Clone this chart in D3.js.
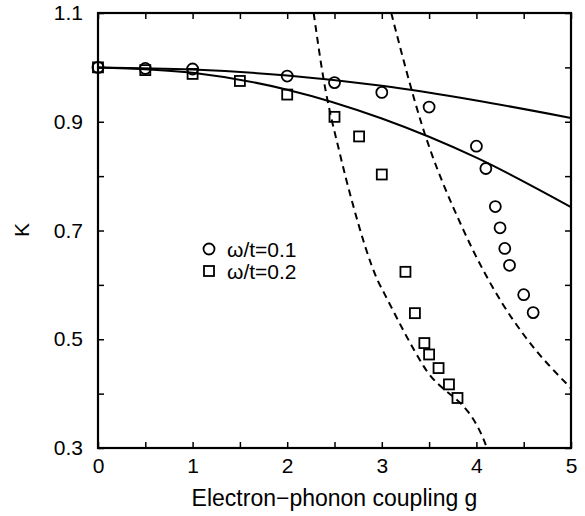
<!DOCTYPE html>
<html><head><meta charset="utf-8">
<script src="https://cdn.jsdelivr.net/npm/d3@7"></script>
<style>body{margin:0;background:#fff}text{font-family:"Liberation Sans",Arial,Helvetica,sans-serif}</style>
</head><body>
<svg id="c" width="585" height="516"></svg>
<script>
// Data
const gCircles=[0,0.5,1,2,2.5,3,3.5,4,4.1,4.2,4.25,4.3,4.35,4.5,4.6];
const kCircles=[1.0,0.998,0.997,0.984,0.972,0.954,0.927,0.855,0.814,0.744,0.705,0.667,0.636,0.582,0.549];
const gSquares=[0,0.5,1,1.5,2,2.5,2.76,3,3.25,3.35,3.45,3.5,3.6,3.71,3.8];
const kSquares=[1.0,0.995,0.988,0.975,0.950,0.909,0.873,0.803,0.624,0.548,0.493,0.472,0.447,0.417,0.392];
const gSolid=[0,1,2,3,4,5];
const kSolidUpper=[1.0,0.996,0.985,0.966,0.939,0.907];
const kSolidLower=[1.0,0.990,0.959,0.906,0.834,0.743];
const gDashLeft=[2.28,2.38,2.56,2.68,2.96,3.03,3.44,4.09,4.11];
const kDashLeft=[1.10,0.983,0.839,0.757,0.607,0.583,0.451,0.310,0.300];
const gDashRight=[3.10,3.43,3.86,4.27,4.51,5.0];
const kDashRight=[1.10,0.891,0.702,0.567,0.506,0.41];
const xTicks=[0,0.5,1,1.5,2,2.5,3,3.5,4,4.5,5];
const xLabels=[0,1,2,3,4,5];
const yTicks=[0.3,0.4,0.5,0.6,0.7,0.8,0.9,1.0,1.1];
const yLabels=[0.3,0.5,0.7,0.9,1.1];
const legendLabels=["ω/t=0.1","ω/t=0.2"];

const svg=d3.select("#c");
const x=d3.scaleLinear().domain([0,5]).range([98,571]);
const y=d3.scaleLinear().domain([0.3,1.1]).range([448,13]);
const FS=21;

svg.append("defs").append("clipPath").attr("id","clip")
  .append("rect").attr("x",x(0)).attr("y",y(1.1)).attr("width",x(5)-x(0)).attr("height",y(0.3)-y(1.1));

const fmtX=d=>xLabels.includes(d)?String(d):"";
const fmtY=d=>yLabels.some(v=>Math.abs(v-d)<1e-9)?d3.format(".1f")(d):"";

function styleAxis(g){
  g.select(".domain").remove();
  g.selectAll(".tick line").attr("stroke","#000").attr("stroke-width",1.5);
  g.selectAll(".tick text").attr("fill","#000").style("font-size",FS+"px");
}
svg.append("g").attr("transform",`translate(0,${y(0.3)})`)
  .call(d3.axisBottom(x).tickValues(xTicks).tickSize(-6).tickPadding(10).tickFormat(fmtX)).call(styleAxis);
svg.append("g").attr("transform",`translate(0,${y(1.1)})`)
  .call(d3.axisTop(x).tickValues(xTicks).tickSize(-6).tickFormat("")).call(styleAxis);
svg.append("g").attr("transform",`translate(${x(0)},0)`)
  .call(d3.axisLeft(y).tickValues(yTicks).tickSize(-6).tickPadding(15).tickFormat(fmtY)).call(styleAxis);
svg.append("g").attr("transform",`translate(${x(5)},0)`)
  .call(d3.axisRight(y).tickValues(yTicks).tickSize(-6).tickFormat("")).call(styleAxis);

svg.append("rect").attr("x",x(0)).attr("y",y(1.1)).attr("width",x(5)-x(0)).attr("height",y(0.3)-y(1.1))
  .attr("fill","none").attr("stroke","#000").attr("stroke-width",2.2);

const line=d3.line().x(d=>x(d[0])).y(d=>y(d[1])).curve(d3.curveMonotoneX);
const plot=svg.append("g").attr("clip-path","url(#clip)");
function drawLine(gs,ks,dash){
  plot.append("path").datum(gs.map((g,i)=>[g,ks[i]])).attr("d",line)
    .attr("fill","none").attr("stroke","#000").attr("stroke-width",2)
    .attr("stroke-dasharray",dash||null);
}
drawLine(gSolid,kSolidUpper);
drawLine(gSolid,kSolidLower);
drawLine(gDashLeft,kDashLeft,"7,5");
drawLine(gDashRight,kDashRight,"7,5");

svg.append("g").selectAll("circle").data(gCircles.map((g,i)=>[g,kCircles[i]])).join("circle")
  .attr("cx",d=>x(d[0])).attr("cy",d=>y(d[1])).attr("r",5.5)
  .attr("fill","none").attr("stroke","#000").attr("stroke-width",1.8);
const S=10;
svg.append("g").selectAll("rect").data(gSquares.map((g,i)=>[g,kSquares[i]])).join("rect")
  .attr("x",d=>x(d[0])-S/2).attr("y",d=>y(d[1])-S/2).attr("width",S).attr("height",S)
  .attr("fill","none").attr("stroke","#000").attr("stroke-width",1.8);

// legend
const lg=svg.append("g");
lg.append("circle").attr("cx",209).attr("cy",249).attr("r",5.5).attr("fill","none").attr("stroke","#000").attr("stroke-width",1.8);
lg.append("rect").attr("x",209-S/2).attr("y",271-S/2).attr("width",S).attr("height",S).attr("fill","none").attr("stroke","#000").attr("stroke-width",1.8);
lg.selectAll("text").data(legendLabels).join("text")
  .attr("x",227).attr("y",(d,i)=>249+22*i).attr("dy","0.36em").style("font-size",FS+"px").text(d=>d);

svg.append("text").attr("x",(x(0)+x(5))/2).attr("y",506).attr("text-anchor","middle")
  .style("font-size","23px").text("Electron−phonon coupling g");
svg.append("text").attr("transform",`translate(29,230) rotate(-90)`).attr("text-anchor","middle")
  .style("font-size",FS+"px").text("K");
</script>
</body></html>
